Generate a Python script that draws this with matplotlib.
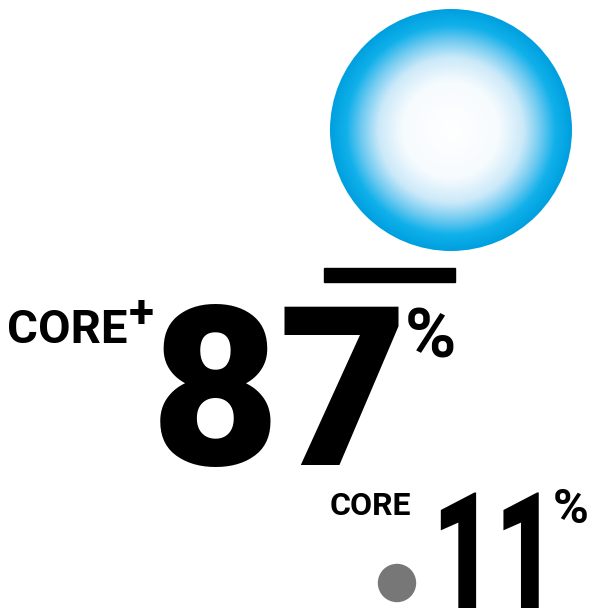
import numpy as np
import matplotlib.pyplot as plt
from matplotlib.patches import Circle, Rectangle
from matplotlib.colors import LinearSegmentedColormap
from matplotlib.patheffects import AbstractPathEffect
from matplotlib.transforms import Affine2D

# chart values
groups = ["CORE", "CORE"]
marks = ["+", ""]
shares = [87, 11]
unit = "%"


class Squeeze(AbstractPathEffect):
    """Narrow the glyphs horizontally, about the text origin."""

    def __init__(self, sx):
        super().__init__()
        self.sx = sx

    def draw_path(self, renderer, gc, tpath, affine, rgbFace=None):
        renderer.draw_path(gc, tpath, Affine2D().scale(self.sx, 1) + affine, rgbFace)


fig = plt.figure(figsize=(5.97, 6.08), dpi=100)
ax = fig.add_axes([0, 0, 1, 1])

# blue bubble (CORE+)
cx, cy, r = 451, 130, 121
bubble = LinearSegmentedColormap.from_list(
    "bubble",
    [(0.0, "#ffffff"), (0.4, "#f6fbfe"), (0.6, "#cbe9f9"),
     (0.75, "#6cc9f0"), (0.87, "#10b0ea"), (1.0, "#00a0e0")])
yy, xx = np.mgrid[-1:1:400j, -1:1:400j]
rr = np.sqrt(xx ** 2 + yy ** 2)
img = ax.imshow(rr, cmap=bubble, vmin=0, vmax=1, aspect="auto",
                extent=(cx - r, cx + r, cy + r, cy - r), interpolation="bilinear")
img.set_clip_path(Circle((cx, cy), r, transform=ax.transData))

# black rule under bubble
ax.add_patch(Rectangle((324, 268), 131, 14, color="black"))

# gray dot (CORE)
ax.add_patch(Circle((397, 583), 18.5, color="#777777"))

label = dict(family="Roboto", weight="bold", color="black", va="baseline", ha="left")
num = dict(family="Roboto", weight="black", color="black", va="baseline", ha="left")

# CORE+ 87%
ax.text(7, 343, groups[0], fontsize=34, **label)
ax.text(129, 327, marks[0], fontsize=33, **label)
ax.text(151, 465, str(shares[0]), fontsize=160, **num)
ax.text(405, 358, unit, fontsize=50, **label)

# CORE 11%
ax.text(330, 515, groups[1] + marks[1], fontsize=23, **label)
ax.text(432, 608, str(shares[1]), fontsize=117, path_effects=[Squeeze(0.665)], **num)
ax.text(553, 523, unit, fontsize=35, **label)

ax.set_xlim(0, 597)
ax.set_ylim(608, 0)
ax.axis("off")

fig.savefig("out.png", dpi=100)
